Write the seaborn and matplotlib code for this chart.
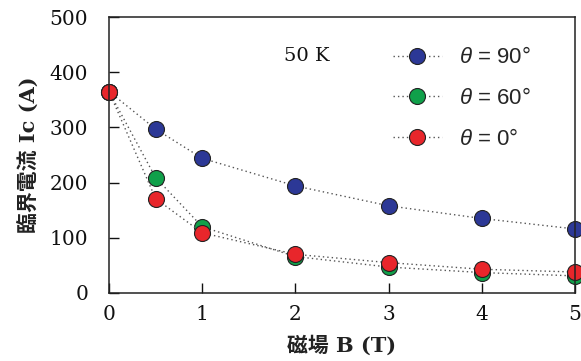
import matplotlib
matplotlib.use("Agg")
import matplotlib.pyplot as plt
import pandas as pd
import seaborn as sns

# 磁場 B (T)
field = [0, 0.5, 1, 2, 3, 4, 5]
# 臨界電流 Ic (A)
ic_90 = [365, 297, 244, 194, 158, 135, 116]
ic_60 = [365, 209, 120, 66, 47, 37, 31]
ic_0 = [365, 171, 109, 70, 55, 43, 38]

labels = ["$\\theta$ = 90°", "$\\theta$ = 60°", "$\\theta$ = 0°"]
colors = ["#2c3896", "#10a04a", "#e8262b"]

sns.set_style("ticks")
plt.rcParams["font.family"] = ["DejaVu Serif"]
plt.rcParams["mathtext.fontset"] = "custom"
plt.rcParams["mathtext.it"] = "Liberation Sans:italic"
plt.rcParams["mathtext.rm"] = "Liberation Sans"

fig = plt.figure(figsize=(5.81, 3.61), dpi=100)
ax = fig.add_axes([0.1876, 0.1884, 0.8021, 0.7645])

for ys, lab, c in zip([ic_90, ic_60, ic_0], labels, colors):
    df = pd.DataFrame({"B": field, "Ic": ys})
    sns.lineplot(data=df, x="B", y="Ic", ax=ax, color="#555555",
                 linestyle=(0, (1, 2.2)), linewidth=1.0, marker="o",
                 markersize=11.5, markerfacecolor=c, markeredgecolor="#222222",
                 markeredgewidth=0.8, label=lab, clip_on=False)

ax.set_xlim(0, 5)
ax.set_ylim(0, 500)
ax.set_xticks(range(0, 6))
ax.set_yticks(range(0, 501, 100))
ax.tick_params(direction="in", length=7, width=1, labelsize=14.5,
               colors="#111111")
ax.tick_params(axis="x", pad=9)
ax.tick_params(axis="y", pad=15)
for s in ax.spines.values():
    s.set_linewidth(1.1)
    s.set_color("#222222")

lab_font = ["DejaVu Serif", "Noto Sans CJK JP"]
ax.set_xlabel("磁場 B (T)", family=lab_font, fontsize=15,
              fontweight="bold", color="#222222", labelpad=8)
ax.set_ylabel("臨界電流 Ic (A)", family=lab_font, fontsize=15,
              fontweight="bold", color="#222222", labelpad=8)

ax.text(0.375, 0.86, "50 K", transform=ax.transAxes, fontsize=14,
        color="#111111", va="center")

leg = ax.legend(loc="upper left", bbox_to_anchor=(0.585, 0.93), frameon=False,
                handlelength=2.2, labelspacing=0.88,
                handletextpad=0.8, borderpad=0,
                prop={"family": "Liberation Sans", "size": 16})

fig.savefig("out.png", dpi=100)
